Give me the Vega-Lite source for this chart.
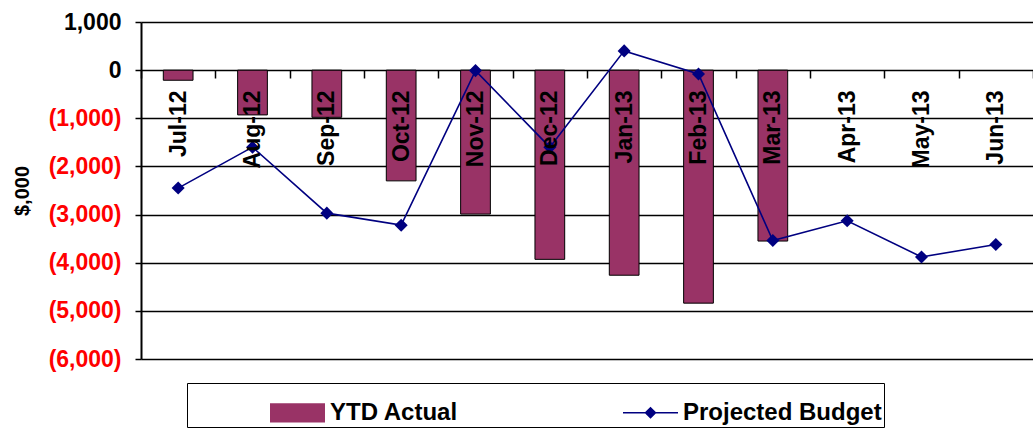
{
  "$schema": "https://vega.github.io/schema/vega-lite/v6.json",
  "width": 892,
  "height": 337,
  "autosize": "none",
  "padding": {"left": 141, "top": 22, "right": 0, "bottom": 84},
  "background": "white",
  "config": {
    "view": {"stroke": null},
    "font": "Liberation Sans",
    "legend": {
      "orient": "none",
      "legendX": 46,
      "legendY": 361,
      "direction": "horizontal",
      "columns": 2,
      "columnPadding": 83,
      "padding": 2,
      "strokeColor": "black",
      "fillColor": "white",
      "labelFont": "Liberation Sans",
      "labelFontSize": 24,
      "labelFontWeight": "bold",
      "labelColor": "black",
      "labelOffset": 5,
      "labelLimit": 400,
      "symbolSize": 3025,
      "symbolOffset": 81,
      "symbolOpacity": 1,
      "symbolStrokeWidth": 0
    }
  },
  "data": {
    "values": [
      {"month": "Jul-12", "actual": -210, "budget": -2450},
      {"month": "Aug-12", "actual": -930, "budget": -1600},
      {"month": "Sep-12", "actual": -980, "budget": -2970},
      {"month": "Oct-12", "actual": -2300, "budget": -3220},
      {"month": "Nov-12", "actual": -2990, "budget": -10},
      {"month": "Dec-12", "actual": -3930, "budget": -1600},
      {"month": "Jan-13", "actual": -4260, "budget": 400},
      {"month": "Feb-13", "actual": -4840, "budget": -80},
      {"month": "Mar-13", "actual": -3550, "budget": -3540},
      {"month": "Apr-13", "actual": null, "budget": -3130},
      {"month": "May-13", "actual": null, "budget": -3880},
      {"month": "Jun-13", "actual": null, "budget": -3620}
    ]
  },
  "encoding": {
    "x": {
      "field": "month",
      "type": "nominal",
      "sort": null,
      "scale": {"paddingInner": 0, "paddingOuter": 0},
      "axis": {
        "title": null,
        "orient": "bottom",
        "offset": -289,
        "domain": false,
        "ticks": true,
        "tickBand": "extent",
        "tickSize": 8,
        "tickColor": "black",
        "tickWidth": 1.5,
        "labelAngle": -90,
        "labelAlign": "right",
        "labelBaseline": "middle",
        "labelPadding": 12,
        "labelFont": "Liberation Sans",
        "labelFontSize": 23,
        "labelFontWeight": "bold",
        "labelColor": "black",
        "grid": false,
        "zindex": 1
      }
    }
  },
  "layer": [
    {
      "mark": {"type": "bar", "width": {"band": 0.4}, "stroke": "black", "strokeWidth": 1},
      "encoding": {
        "y": {
          "field": "actual",
          "type": "quantitative",
          "scale": {"domain": [-6000, 1000], "nice": false},
          "axis": {
            "title": "$,000",
            "titleFont": "Liberation Sans",
            "titleFontSize": 20,
            "titleFontWeight": "bold",
            "titleColor": "black",
            "titlePadding": 16,
            "values": [-6000, -5000, -4000, -3000, -2000, -1000, 0, 1000],
            "labelExpr": "datum.value < 0 ? '(' + format(-datum.value, ',') + ')' : format(datum.value, ',')",
            "labelColor": {"condition": {"test": "datum.value < 0", "value": "#ff0000"}, "value": "black"},
            "labelFont": "Liberation Sans",
            "labelFontSize": 23,
            "labelFontWeight": "bold",
            "labelPadding": 14,
            "tickSize": 6,
            "tickColor": "black",
            "tickWidth": 1.5,
            "domainColor": "black",
            "domainWidth": 2,
            "grid": true,
            "gridColor": "black",
            "gridWidth": 1.5,
            "gridOpacity": 1
          }
        },
        "color": {
          "datum": "YTD Actual",
          "scale": {"domain": ["YTD Actual", "Projected Budget"], "range": ["#993366", "#000080"]},
          "legend": {"title": null}
        }
      }
    },
    {
      "mark": {"type": "line", "strokeWidth": 1.6},
      "encoding": {
        "y": {"field": "budget", "type": "quantitative"},
        "color": {"datum": "Projected Budget"}
      }
    },
    {
      "mark": {"type": "point", "shape": "diamond", "size": 170, "filled": true, "opacity": 1},
      "encoding": {
        "y": {"field": "budget", "type": "quantitative"},
        "color": {"datum": "Projected Budget"}
      }
    },
    {
      "transform": [{"filter": "false"}],
      "mark": {"type": "point", "filled": true},
      "encoding": {
        "y": {"field": "budget", "type": "quantitative"},
        "color": {"field": "series", "type": "nominal"},
        "shape": {
          "field": "series",
          "type": "nominal",
          "scale": {"domain": ["YTD Actual", "Projected Budget"], "range": ["M-1,-0.35H1V0.35H-1Z", "M-1,-0.03H1V0.03H-1ZM0,-0.22L0.22,0L0,0.22L-0.22,0Z"]},
          "legend": {"title": null}
        }
      }
    }
  ]
}
